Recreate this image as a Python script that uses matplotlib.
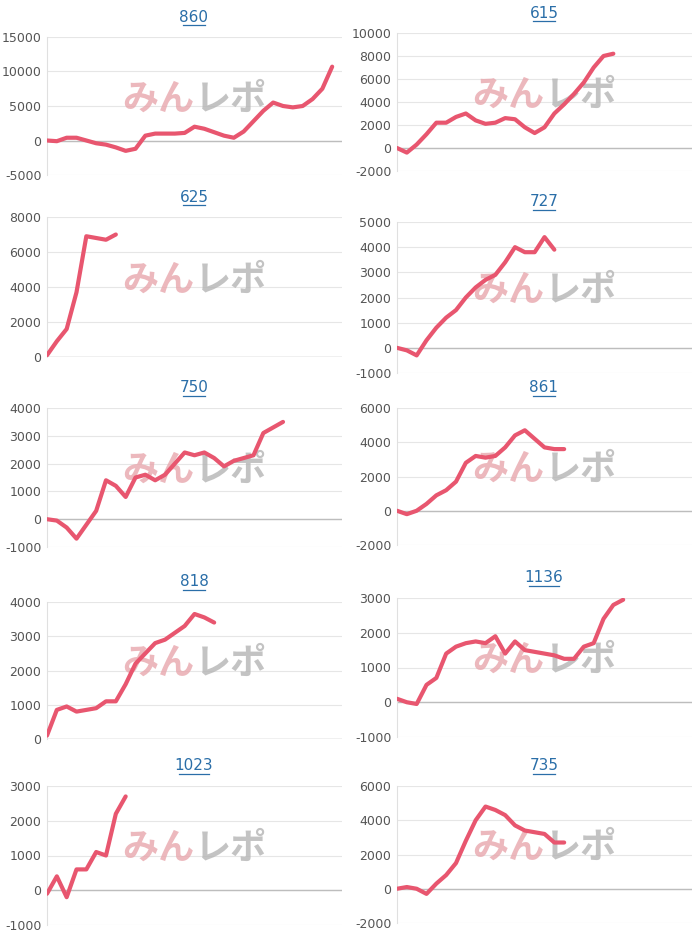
import matplotlib
matplotlib.use("Agg")
import matplotlib.pyplot as plt
from matplotlib.lines import Line2D

# chart titles and cumulative values (one list per chart, equal x steps)
titles = ["860", "615", "625", "727", "750", "861", "818", "1136", "1023", "735"]

s860 = [0, -100, 400, 400, 0, -400, -600, -1000, -1500, -1200, 700, 1000, 1000, 1000, 1100,
        2000, 1700, 1200, 700, 400, 1300, 2800, 4300, 5500, 5000, 4800, 5000, 6000, 7500, 10700]
s615 = [0, -400, 300, 1200, 2200, 2200, 2700, 3000, 2400, 2100, 2200, 2600, 2500, 1800, 1300,
        1800, 3000, 3800, 4700, 5700, 7000, 8000, 8200]
s625 = [100, 900, 1600, 3700, 6900, 6800, 6700, 7000]
s727 = [0, -100, -300, 300, 800, 1200, 1500, 2000, 2400, 2700, 2900, 3400, 4000, 3800, 3800,
        4400, 3900]
s750 = [0, -50, -300, -700, -200, 300, 1400, 1200, 800, 1500, 1600, 1400, 1600, 2000, 2400,
        2300, 2400, 2200, 1900, 2100, 2200, 2300, 3100, 3300, 3500]
s861 = [0, -200, 0, 400, 900, 1200, 1700, 2800, 3200, 3100, 3200, 3700, 4400, 4700, 4200,
        3700, 3600, 3600]
s818 = [100, 850, 950, 800, 850, 900, 1100, 1100, 1600, 2200, 2500, 2800, 2900, 3100, 3300,
        3650, 3550, 3400]
s1136 = [100, 0, -50, 500, 700, 1400, 1600, 1700, 1750, 1700, 1900, 1400, 1750, 1500, 1450,
         1400, 1350, 1250, 1250, 1600, 1700, 2400, 2800, 2950]
s1023 = [-100, 400, -200, 600, 600, 1100, 1000, 2200, 2700]
s735 = [0, 100, 0, -300, 300, 800, 1500, 2800, 4000, 4800, 4600, 4300, 3700, 3400, 3300,
        3200, 2700, 2700]

series = [s860, s615, s625, s727, s750, s861, s818, s1136, s1023, s735]
ylims = [(-5000, 15000), (-2000, 10000), (0, 8000), (-1000, 5000), (-1000, 4000),
         (-2000, 6000), (0, 4000), (-1000, 3000), (-1000, 3000), (-2000, 6000)]
ysteps = [5000, 2000, 2000, 1000, 1000, 2000, 1000, 1000, 1000, 2000]

# pixel boxes (top, bottom) of each plot area
boxes = [(37, 175), (33, 171), (217, 357), (222, 373), (408, 547), (408, 545),
         (602, 739), (598, 737), (786, 925), (786, 923)]

W, H = 700, 940
fig = plt.figure(figsize=(7, 9.4), dpi=100)

for i, (t, s) in enumerate(zip(titles, series)):
    col = i % 2
    left = 47 if col == 0 else 397
    top, bot = boxes[i]
    ax = fig.add_axes([left / W, 1 - bot / H, 295 / W, (bot - top) / H])
    lo, hi = ylims[i]
    ax.set_ylim(lo, hi)
    ax.set_xlim(0, 30)
    ticks = list(range(lo, hi + 1, ysteps[i]))
    ax.set_yticks(ticks)
    ax.set_yticklabels([str(v) for v in ticks])
    ax.set_xticks([])
    for v in ticks:
        ax.axhline(v, color="#e6e6e6", lw=0.8, zorder=0)
    ax.axhline(0, color="#bdbdbd", lw=1.0, zorder=1)
    for sp in ["top", "right", "bottom"]:
        ax.spines[sp].set_visible(False)
    ax.spines["left"].set_color("#e0e0e0")
    ax.tick_params(axis="y", length=0, labelsize=9, labelcolor="#555555", pad=4)

    # watermark
    ax.text(0.5, 0.55, "みん", transform=ax.transAxes, ha="right", va="center",
            fontsize=26, fontweight="bold", color="#e8a7ad", alpha=0.8,
            family=["Noto Sans CJK JP", "DejaVu Sans"], zorder=2)
    ax.text(0.5, 0.55, "レポ", transform=ax.transAxes, ha="left", va="center",
            fontsize=26, fontweight="bold", color="#b5b5b5", alpha=0.8,
            family=["Noto Sans CJK JP", "DejaVu Sans"], zorder=2)

    ax.plot(range(len(s)), s, color="#e8566f", lw=3, zorder=3, solid_capstyle="round")

    cx = left + 147
    ty = top - 20
    fig.text(cx / W, 1 - ty / H, t, ha="center", va="center", fontsize=11, color="#2a6ea8")
    hw = 3.8 * len(t)
    fig.add_artist(Line2D([(cx - hw) / W, (cx + hw) / W], [1 - (ty + 8) / H] * 2,
                          color="#2a6ea8", lw=0.9))

fig.savefig("out.png", dpi=100, facecolor="white")
